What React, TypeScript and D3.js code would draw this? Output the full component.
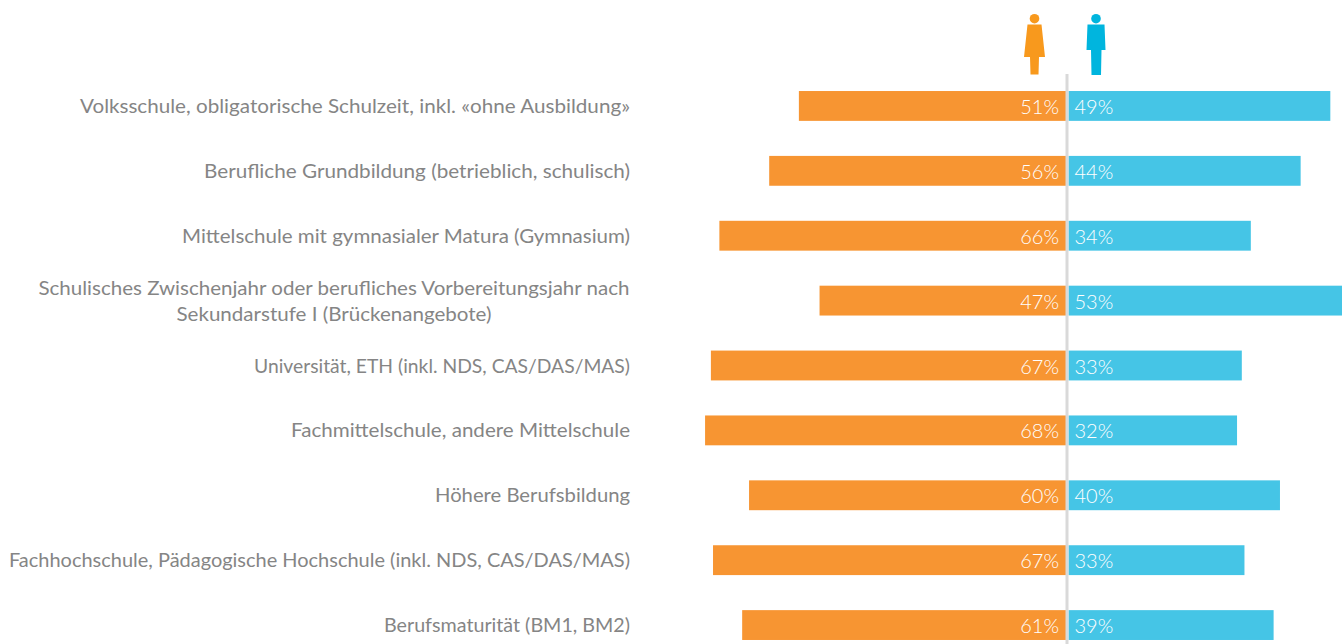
import * as d3 from "d3";
import { useEffect, useRef } from "react";

const categories = [
  ["Volksschule, obligatorische Schulzeit, inkl. «ohne Ausbildung»"],
  ["Berufliche Grundbildung (betrieblich, schulisch)"],
  ["Mittelschule mit gymnasialer Matura (Gymnasium)"],
  ["Schulisches Zwischenjahr oder berufliches Vorbereitungsjahr nach", "Sekundarstufe I (Brückenangebote)"],
  ["Universität, ETH (inkl. NDS, CAS/DAS/MAS)"],
  ["Fachmittelschule, andere Mittelschule"],
  ["Höhere Berufsbildung"],
  ["Fachhochschule, Pädagogische Hochschule (inkl. NDS, CAS/DAS/MAS)"],
  ["Berufsmaturität (BM1, BM2)"],
];
const women = [50.4, 56.0, 65.4, 46.5, 67.0, 68.1, 59.8, 66.6, 61.1];
const men = [49.4, 43.8, 34.4, 53.3, 32.7, 31.8, 39.9, 33.2, 38.7];
const womenShown = [51, 56, 66, 47, 67, 68, 60, 67, 61];
const menShown = [49, 44, 34, 53, 33, 32, 40, 33, 39];

// the original font is not installed, so each label line gets fitted to its measured width
const lineWidths = [[550], [426], [448], [591, 315], [376], [339], [195], [621], [246]];

const w = 1342;
const h = 644;
const font = "Lato, 'Open Sans', sans-serif";

function App() {
  const svgRef = useRef<SVGSVGElement | null>(null);

  useEffect(() => {
    const svg = d3.select(svgRef.current);
    svg.selectAll("*").remove();

    const y = d3
      .scaleBand<number>()
      .domain(d3.range(categories.length))
      .range([73.5, 657.5])
      .paddingInner(0.54)
      .paddingOuter(0.27);
    // same px per percent on both sides, they start either side of the grey line
    const left = d3.scaleLinear().domain([0, 100]).range([1066, 536]);
    const right = d3.scaleLinear().domain([0, 100]).range([1068.5, 1598.5]);

    const rows = svg
      .selectAll("g.row")
      .data(categories)
      .join("g")
      .attr("class", "row")
      .attr("transform", (_, i) => `translate(0,${y(i)! + y.bandwidth() / 2})`);

    rows
      .append("rect")
      .attr("x", (_, i) => left(women[i]))
      .attr("y", -y.bandwidth() / 2)
      .attr("width", (_, i) => left(0) - left(women[i]))
      .attr("height", y.bandwidth())
      .attr("fill", "#f79532");
    rows
      .append("rect")
      .attr("x", right(0))
      .attr("y", -y.bandwidth() / 2)
      .attr("width", (_, i) => right(men[i]) - right(0))
      .attr("height", y.bandwidth())
      .attr("fill", "#45c5e6");

    rows
      .append("text")
      .attr("x", 1059)
      .attr("y", 8)
      .attr("text-anchor", "end")
      .attr("fill", "#fff")
      .attr("font-size", 20)
      .attr("font-weight", 300)
      .text((_, i) => womenShown[i] + "%");
    rows
      .append("text")
      .attr("x", 1074.5)
      .attr("y", 8)
      .attr("fill", "#fff")
      .attr("font-size", 20)
      .attr("font-weight", 300)
      .text((_, i) => menShown[i] + "%");

    rows.each(function (lines, i) {
      const g = d3.select(this);
      lines.forEach((t, k) => {
        const single = lines.length === 1;
        // the long label is centred inside its right aligned block
        g.append("text")
          .attr("x", single ? 630 : 334)
          .attr("y", single ? 7 : -5.5 + k * 26)
          .attr("text-anchor", single ? "end" : "middle")
          .attr("fill", "#858585")
          .attr("font-size", 20)
          .attr("textLength", lineWidths[i][k])
          .attr("lengthAdjust", "spacingAndGlyphs")
          .text(t);
      });
    });

    // grey centre line
    svg
      .append("line")
      .attr("x1", 1067)
      .attr("x2", 1067)
      .attr("y1", 74)
      .attr("y2", h)
      .attr("stroke", "#d9d9d9")
      .attr("stroke-width", 3);

    // woman
    const f = svg.append("g").attr("fill", "#f8991d");
    f.append("circle").attr("cx", 1034.5).attr("cy", 18.7).attr("r", 4.8);
    f.append("path").attr("d", "M1027.5 24.5H1041.5L1045 57H1039L1038.5 74.5H1030.5L1030 57H1024Z");
    // man
    const m = svg.append("g").attr("fill", "#00b5de");
    m.append("circle").attr("cx", 1096).attr("cy", 18.7).attr("r", 4.8);
    m.append("path").attr("d", "M1087.5 24.5H1104.5L1105.5 50H1101.5L1101 75H1091.5L1091 50H1086.5Z");
  }, []);

  return (
    <svg
      ref={svgRef}
      width={w}
      height={h}
      style={{ position: "absolute", left: 0, top: 0, fontFamily: font }}
    />
  );
}

export default App;
